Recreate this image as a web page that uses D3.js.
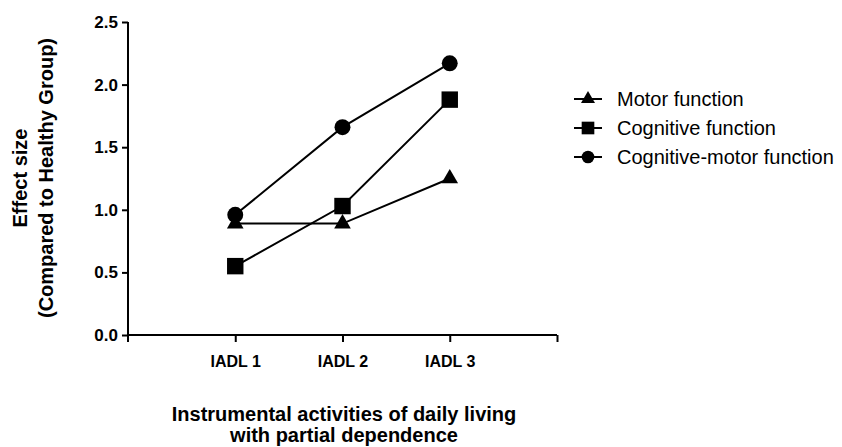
<!DOCTYPE html>
<html lang="en">
<head>
  <meta charset="UTF-8">
  <script src="https://d3js.org/d3.v7.min.js"></script>
  <style>
    body { margin: 0; background: #fff; }
    svg { display: block; font-family: "Liberation Sans", Arial, sans-serif; }
  </style>
</head>
<body>
  <script>
    const categories = ["IADL 1", "IADL 2", "IADL 3"];
    const motor = [0.89, 0.89, 1.25];
    const cognitive = [0.55, 1.03, 1.88];
    const cognitiveMotor = [0.96, 1.66, 2.17];
    const yTicks = [0.0, 0.5, 1.0, 1.5, 2.0, 2.5];

    const series = [
      { name: "Motor function", values: motor, shape: d3.symbolTriangle, size: 120, legendSize: 85 },
      { name: "Cognitive function", values: cognitive, shape: d3.symbolSquare, size: 270, legendSize: 160 },
      { name: "Cognitive-motor function", values: cognitiveMotor, shape: d3.symbolCircle, size: 200, legendSize: 125 }
    ];

    const width = 842, height = 447;
    const svg = d3.select("body").append("svg")
      .attr("width", width)
      .attr("height", height);

    // x positions: category i sits at i+1, axis runs 0..4
    const x = d3.scaleLinear().domain([0, 4]).range([128, 557]);
    const y = d3.scaleLinear().domain([0, 2.5]).range([335, 22]);

    // y axis
    const yAxis = svg.append("g")
      .attr("transform", `translate(${x(0)},0)`)
      .call(d3.axisLeft(y).tickValues(yTicks).tickFormat(d3.format(".1f")).tickSize(6).tickPadding(4));
    yAxis.select(".domain").attr("d", `M0,${y(2.5)}V${y(0) + 7}`);
    yAxis.selectAll("line, path").attr("stroke", "#000").attr("stroke-width", 2);
    yAxis.selectAll("text").attr("font-size", 17).attr("font-weight", "bold").attr("fill", "#000");

    // x axis
    const xAxis = svg.append("g")
      .attr("transform", `translate(0,${y(0)})`)
      .call(d3.axisBottom(x).tickValues([1, 2, 3, 4]).tickFormat(d => categories[d - 1] || "").tickSize(7).tickPadding(14));
    xAxis.select(".domain").attr("d", `M${x(0)},0H${x(4)}`);
    xAxis.selectAll("line, path").attr("stroke", "#000").attr("stroke-width", 2);
    xAxis.selectAll("text").attr("font-size", 16).attr("font-weight", "bold").attr("fill", "#000");

    // axis titles
    svg.append("text")
      .attr("transform", "translate(27,178) rotate(-90)")
      .attr("text-anchor", "middle")
      .attr("font-size", 20).attr("font-weight", "bold")
      .text("Effect size");
    svg.append("text")
      .attr("transform", "translate(53,178) rotate(-90)")
      .attr("text-anchor", "middle")
      .attr("font-size", 20).attr("font-weight", "bold")
      .text("(Compared to Healthy Group)");

    svg.append("text")
      .attr("x", 344).attr("y", 421)
      .attr("text-anchor", "middle")
      .attr("font-size", 20).attr("font-weight", "bold")
      .text("Instrumental activities of daily living");
    svg.append("text")
      .attr("x", 344).attr("y", 442)
      .attr("text-anchor", "middle")
      .attr("font-size", 20).attr("font-weight", "bold")
      .text("with partial dependence");

    const line = d3.line().x((d, i) => x(i + 1)).y(d => y(d));

    series.forEach(s => {
      svg.append("path")
        .attr("d", line(s.values))
        .attr("fill", "none")
        .attr("stroke", "#000")
        .attr("stroke-width", 2);
      svg.selectAll(null)
        .data(s.values)
        .enter()
        .append("path")
        .attr("transform", (d, i) => `translate(${x(i + 1)},${y(d)})`)
        .attr("d", d3.symbol().type(s.shape).size(s.size))
        .attr("fill", "#000");
    });

    // legend
    const legend = svg.append("g");
    series.forEach((s, i) => {
      const g = legend.append("g").attr("transform", `translate(588,${99 + i * 29})`);
      g.append("line").attr("x1", -14).attr("x2", 14).attr("stroke", "#000").attr("stroke-width", 2);
      g.append("path")
        .attr("d", d3.symbol().type(s.shape).size(s.legendSize))
        .attr("fill", "#000");
      g.append("text")
        .attr("x", 29).attr("dy", "0.35em")
        .attr("font-size", 20)
        .text(s.name);
    });
  </script>
</body>
</html>
